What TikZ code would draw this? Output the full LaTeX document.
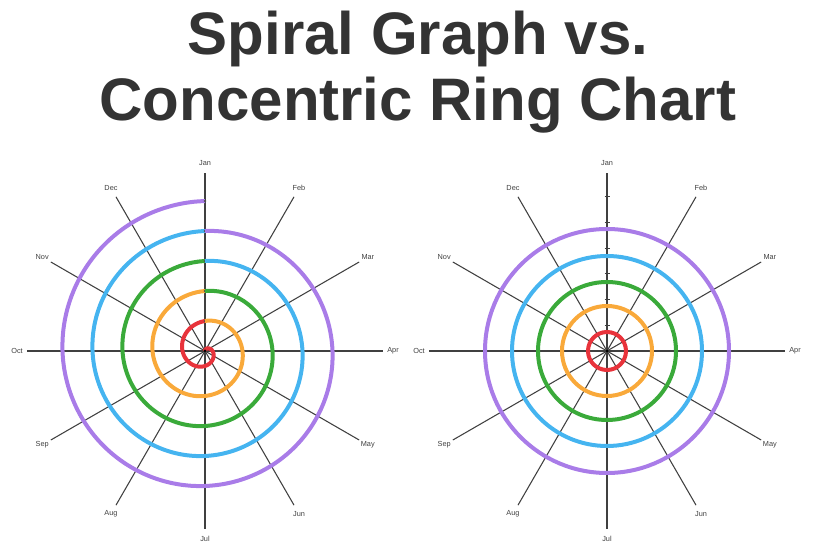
\documentclass[tikz,border=0pt]{standalone}
\usepackage{fontspec}
\setmainfont{Liberation Sans}
\usetikzlibrary{calc}
\definecolor{ringred}{RGB}{232,51,59}
\definecolor{ringorange}{RGB}{249,169,58}
\definecolor{ringgreen}{RGB}{58,170,58}
\definecolor{ringblue}{RGB}{69,180,240}
\definecolor{ringpurple}{RGB}{169,124,232}
\tikzset{
  ring/.style={line width=3pt},
  spoke/.style={line width=0.8pt, color=black!75},
  month/.style={font=\fontsize{5.5}{6}\selectfont, text=black!75},
  title/.style={font=\fontsize{45}{49}\selectfont\bfseries, text=black!80, align=center}
}
\begin{document}
\begin{tikzpicture}[x=0.75pt,y=0.75pt,yscale=-1,xscale=1]
\useasboundingbox (0,0) rectangle (814,548);

% Title
\node[title] (title) at (418,72) {Spiral Graph vs.\\Concentric Ring Chart};

% Centres
\coordinate (cL) at (205,351);
\coordinate (cR) at (607,351);

% Spokes and month labels
\foreach \m [count=\i from 0] in {Jan,Feb,Mar,Apr,May,Jun,Jul,Aug,Sep,Oct,Nov,Dec} {
  \coordinate (eL-\i) at ($(cL)+({178*sin(30*\i)},{-178*cos(30*\i)})$);
  \coordinate (eR-\i) at ($(cR)+({178*sin(30*\i)},{-178*cos(30*\i)})$);
  \node[month] (mL-\i) at ($(cL)+({188*sin(30*\i)},{-188*cos(30*\i)})$) {\m};
  \node[month] (mR-\i) at ($(cR)+({188*sin(30*\i)},{-188*cos(30*\i)})$) {\m};
  \draw[spoke] (cL) -- (eL-\i);
  \draw[spoke] (cR) -- (eR-\i);
}

% Spiral, one turn per colour
\foreach \c [count=\k from 0] in {ringred,ringorange,ringgreen,ringblue,ringpurple} {
  \draw[ring, \c] plot[domain=0:360, samples=90, smooth]
    ({205+30*(\k+\x/360)*sin(\x)},{351-30*(\k+\x/360)*cos(\x)});
  \fill[black!70] ($(cL)+(0,{-30*(\k+1)})$) circle (1.3);
}

% Concentric rings
\foreach \c/\r in {ringred/19,ringorange/45,ringgreen/69,ringblue/95,ringpurple/122} {
  \draw[ring, \c] (cR) circle (\r);
}
\foreach \t in {1,...,6} {
  \draw[spoke] ($(cR)+(-2.5,{-25.7*\t})$) -- ($(cR)+(2.5,{-25.7*\t})$);
}
\fill[black] (cL) circle (1.5);
\fill[black] (cR) circle (1.5);

\end{tikzpicture}
\end{document}
